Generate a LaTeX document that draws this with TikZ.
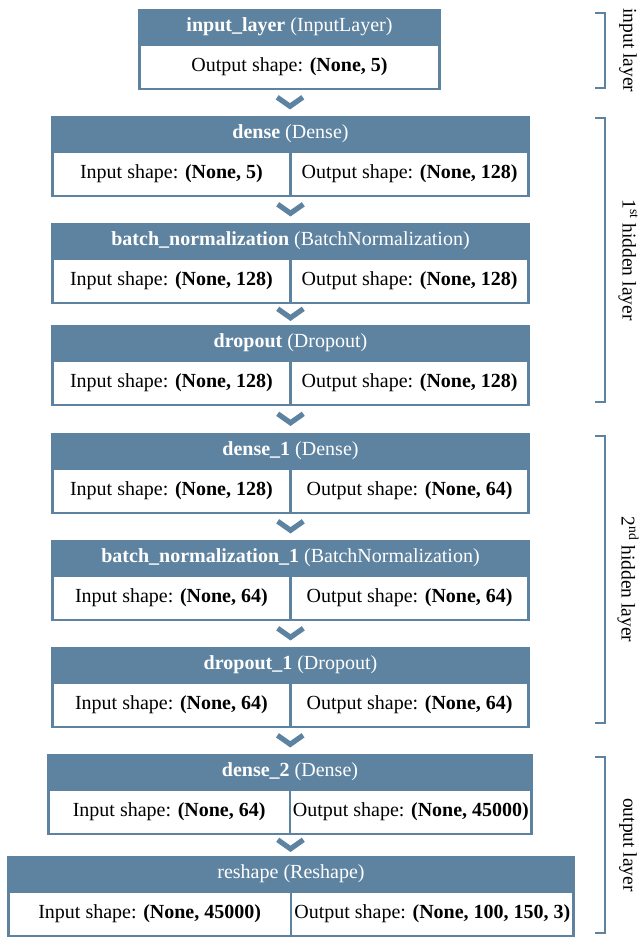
\documentclass[tikz,border=0pt]{standalone}
\usepackage{fontspec}
\setmainfont{Liberation Serif}
\usetikzlibrary{calc}

\definecolor{layerblue}{RGB}{94,131,160}

\tikzset{
  head/.style={fill=layerblue, text=white, inner sep=0pt, outer sep=0pt,
    minimum height=36pt, anchor=north},
  cell/.style={draw=layerblue, line width=2.6pt, fill=white, inner sep=0pt,
    outer sep=0pt, minimum height=44pt},
  bracket/.style={draw=layerblue, line width=2.6pt},
  sidelabel/.style={rotate=-90, inner sep=0pt, font=\fontsize{19.5}{23}\selectfont},
  chevron/.pic={
    \draw[layerblue, line width=5.2pt, line join=miter] (-12.8,-5.2) -- (0,3.8) -- (12.8,-5.2);
  }
}

\begin{document}
\begin{tikzpicture}[x=1pt, y=-1pt, font=\fontsize{20}{24}\selectfont]
        \useasboundingbox (0,0) rectangle (641,939);
        % input layer
        \node[head, minimum width=303pt] (b1) at (289.5,9) {\textbf{input\_layer} (InputLayer)};
        \node[cell, minimum width=300.4pt, anchor=north] (b1out) at (b1.south) {Output shape: \textbf{(None, 5)}};
        % 1st hidden layer
        \node[head, minimum width=479pt] (b2) at (290.5,116) {\textbf{dense} (Dense)};
        \node[cell, minimum width=238.2pt, anchor=north east] (b2in) at (b2.south) {Input shape: \textbf{(None, 5)}};
        \node[cell, minimum width=238.2pt, anchor=north west] (b2out) at (b2.south) {Output shape: \textbf{(None, 128)}};
        \node[head, minimum width=479pt] (b3) at (290.5,223) {\textbf{batch\_normalization} (BatchNormalization)};
        \node[cell, minimum width=238.2pt, anchor=north east] (b3in) at (b3.south) {Input shape: \textbf{(None, 128)}};
        \node[cell, minimum width=238.2pt, anchor=north west] (b3out) at (b3.south) {Output shape: \textbf{(None, 128)}};
        \node[head, minimum width=479pt] (b4) at (290.5,325) {\textbf{dropout} (Dropout)};
        \node[cell, minimum width=238.2pt, anchor=north east] (b4in) at (b4.south) {Input shape: \textbf{(None, 128)}};
        \node[cell, minimum width=238.2pt, anchor=north west] (b4out) at (b4.south) {Output shape: \textbf{(None, 128)}};
        % 2nd hidden layer
        \node[head, minimum width=479pt] (b5) at (290.5,433) {\textbf{dense\_1} (Dense)};
        \node[cell, minimum width=238.2pt, anchor=north east] (b5in) at (b5.south) {Input shape: \textbf{(None, 128)}};
        \node[cell, minimum width=238.2pt, anchor=north west] (b5out) at (b5.south) {Output shape: \textbf{(None, 64)}};
        \node[head, minimum width=479pt] (b6) at (290.5,540) {\textbf{batch\_normalization\_1} (BatchNormalization)};
        \node[cell, minimum width=238.2pt, anchor=north east] (b6in) at (b6.south) {Input shape: \textbf{(None, 64)}};
        \node[cell, minimum width=238.2pt, anchor=north west] (b6out) at (b6.south) {Output shape: \textbf{(None, 64)}};
        \node[head, minimum width=479pt] (b7) at (290.5,647) {\textbf{dropout\_1} (Dropout)};
        \node[cell, minimum width=238.2pt, anchor=north east] (b7in) at (b7.south) {Input shape: \textbf{(None, 64)}};
        \node[cell, minimum width=238.2pt, anchor=north west] (b7out) at (b7.south) {Output shape: \textbf{(None, 64)}};
        % output layer
        \node[head, minimum width=486pt] (b8) at (290,754) {\textbf{dense\_2} (Dense)};
        \node[cell, minimum width=241.7pt, anchor=north east] (b8in) at (b8.south) {Input shape: \textbf{(None, 64)}};
        \node[cell, minimum width=241.7pt, anchor=north west] (b8out) at (b8.south) {Output shape: \textbf{(None, 45000)}};
        \node[head, minimum width=568pt] (b9) at (291,856) {reshape (Reshape)};
        \node[cell, minimum width=282.7pt, anchor=north east] (b9in) at (b9.south) {Input shape: \textbf{(None, 45000)}};
        \node[cell, minimum width=282.7pt, anchor=north west] (b9out) at (b9.south) {Output shape: \textbf{(None, 100, 150, 3)}};
        % chevrons between the layers
        \pic at ($(b1out.south)!0.5!(b2.north)$) {chevron};
        \pic at ($(b2in.south east)!0.5!(b3.north)$) {chevron};
        \pic at ($(b3in.south east)!0.5!(b4.north)$) {chevron};
        \pic at ($(b4in.south east)!0.5!(b5.north)$) {chevron};
        \pic at ($(b5in.south east)!0.5!(b6.north)$) {chevron};
        \pic at ($(b6in.south east)!0.5!(b7.north)$) {chevron};
        \pic at ($(b7in.south east)!0.5!(b8.north)$) {chevron};
        \pic at ($(b8in.south east)!0.5!(b9.north)$) {chevron};
        % brackets on the right
        \draw[bracket] (595,13) -- (605,13) -- (605,88) -- (595,88);
        \draw[bracket] (595,118) -- (605,118) -- (605,402) -- (595,402);
        \draw[bracket] (595,436) -- (605,436) -- (605,723) -- (595,723);
        \draw[bracket] (595,757) -- (605,757) -- (605,933) -- (595,933);
        \node[sidelabel] (lblin) at (628,50.5) {input layer};
        \node[sidelabel] (lblh1) at (628,260) {1\textsuperscript{st} hidden layer};
        \node[sidelabel] (lblh2) at (628,579.5) {2\textsuperscript{nd} hidden layer};
        \node[sidelabel] (lblout) at (628,845) {output layer};
      \end{tikzpicture}
\end{document}
